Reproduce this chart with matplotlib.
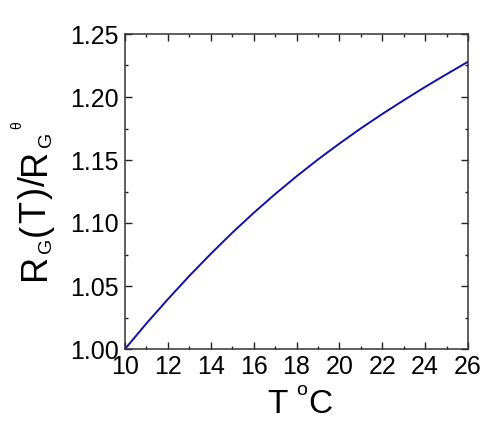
import matplotlib
matplotlib.use("Agg")
import matplotlib.pyplot as plt
from matplotlib.ticker import MultipleLocator, FormatStrFormatter
from matplotlib.transforms import IdentityTransform

plt.rcParams['font.family'] = ['Liberation Sans', 'DejaVu Sans']

temperature = [10, 11, 12, 13, 14, 15, 16, 17, 18, 19, 20, 21, 22, 23, 24, 25, 26]
ratio = [1.000, 1.0203, 1.0395, 1.058, 1.0755, 1.0922, 1.108, 1.1229, 1.137,
         1.1504, 1.163, 1.1751, 1.1865, 1.1974, 1.208, 1.2181, 1.228]

W, H = 491, 436
fig = plt.figure(figsize=(W / 100, H / 100), dpi=100)
ax = fig.add_axes([125 / W, 1 - 349 / H, (468 - 125) / W, (349 - 34) / H])
ax.plot(temperature, ratio, color='#1010a8', lw=1.4)

ax.set_xlim(10, 26)
ax.set_ylim(1.00, 1.25)
ax.xaxis.set_major_locator(MultipleLocator(2))
ax.xaxis.set_minor_locator(MultipleLocator(1))
ax.yaxis.set_major_locator(MultipleLocator(0.05))
ax.yaxis.set_minor_locator(MultipleLocator(0.025))
ax.yaxis.set_major_formatter(FormatStrFormatter('%.2f'))
ax.tick_params(which='both', direction='in', top=True, right=True, width=1,
               colors='#222222', labelcolor='black')
ax.tick_params(which='major', length=5, labelsize=18)
ax.tick_params(axis='x', which='major', pad=4.5)
ax.tick_params(axis='y', which='major', pad=4.5)
ax.tick_params(which='minor', length=2.5)
for s in ax.spines.values():
    s.set_linewidth(1.1)
    s.set_color('#333333')


def put(s, x, y, size, rot=0):
    # x, y in picture pixels from top-left; anchor at start of baseline
    return fig.text(x, H - y, s, fontsize=size, rotation=rot, rotation_mode='anchor',
                    ha='left', va='baseline', transform=IdentityTransform())


# x-axis label: T °C
put('T', 267, 413, 24)
put('o', 296, 395, 14)
put('C', 308, 413, 24)

# y-axis label: R_G(T)/R_G^θ (rotated, reads bottom to top)
renderer = fig.canvas.get_renderer()
pieces = [('R', 26, 45), ('G', 14, 51), ('(', 26, 45), ('T', 26, 45),
          (')', 26, 45), ('/', 26, 45), ('R', 26, 45), ('G', 14, 51)]
lengths = []
for s, size, xb in pieces:
    t = put(s, xb, 0, size, 90)
    lengths.append(t.get_window_extent(renderer).height)
    t.remove()
start, end = 280, 132
gap = (start - end - sum(lengths)) / (len(pieces) - 1)
pos = start
for (s, size, xb), ln in zip(pieces, lengths):
    put(s, xb, pos, size, 90)
    pos -= ln + gap
put('θ', 21, 129, 10, 90)

fig.savefig('out.png', dpi=100)
